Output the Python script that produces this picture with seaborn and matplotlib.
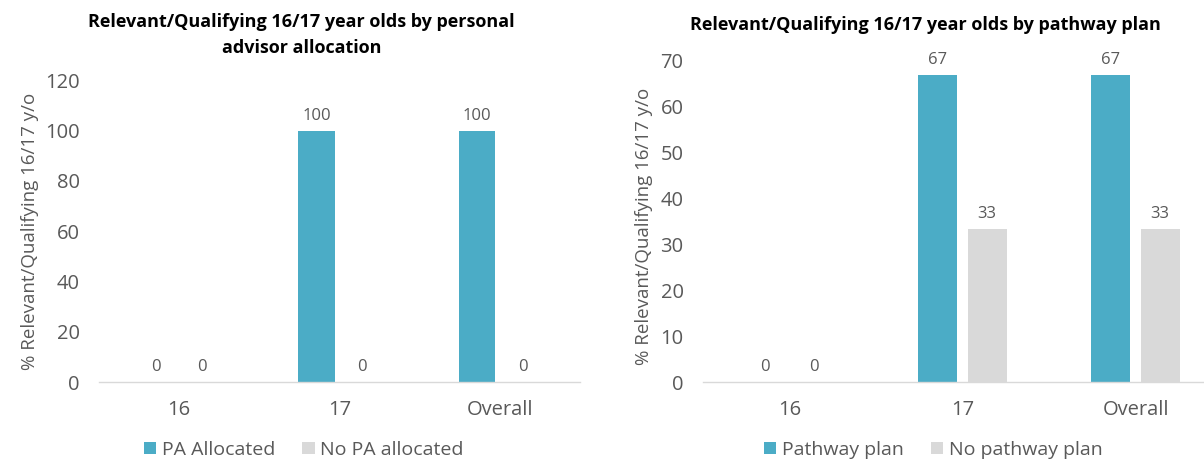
import matplotlib
matplotlib.use("Agg")
import matplotlib.pyplot as plt
import seaborn as sns
import pandas as pd

categories = ["16", "17", "Overall"]
pa_allocated = [0, 100, 100]
no_pa_allocated = [0, 0, 0]
pathway_plan = [0, 66.7, 66.7]
no_pathway_plan = [0, 33.3, 33.3]

left_series = ["PA Allocated", "No PA allocated"]
right_series = ["Pathway plan", "No pathway plan"]
left_title = "Relevant/Qualifying 16/17 year olds by personal\nadvisor allocation"
right_title = "Relevant/Qualifying 16/17 year olds by pathway plan"
ylabel = "% Relevant/Qualifying 16/17 y/o"

sns.set_theme(style="white")
plt.rcParams['font.family'] = ['Open Sans', 'DejaVu Sans']

TEAL = "#4BACC6"
GREY = "#D9D9D9"
TXT = "#595959"
W, H = 1204, 459

fig = plt.figure(figsize=(W / 100, H / 100), dpi=100)
axL = fig.add_axes([99 / W, (H - 382) / H, 481 / W, 301.5 / H])
axR = fig.add_axes([703 / W, (H - 382) / H, 519 / W, 322 / H])


def build(a, b, names):
    rows = []
    for c, v in zip(categories, a):
        rows.append({"cat": c, "series": names[0], "val": v})
    for c, v in zip(categories, b):
        rows.append({"cat": c, "series": names[1], "val": v})
    return pd.DataFrame(rows)


dfL = build(pa_allocated, no_pa_allocated, left_series)
dfR = build(pathway_plan, no_pathway_plan, right_series)


def draw(ax, df, names, ymax, step, leg_x):
    sns.barplot(data=df, x="cat", y="val", hue="series", order=categories,
                hue_order=names, palette=[TEAL, GREY], width=0.572, gap=0.21,
                ax=ax, legend=True, saturation=1, linewidth=0)
    for cont in ax.containers:
        ax.bar_label(cont, fmt="%.0f", padding=5, fontsize=12, color=TXT)
    ax.set_ylim(0, ymax)
    ax.set_yticks(range(0, ymax + 1, step))
    ax.set_xlim(-0.5, 2.5)
    ax.tick_params(axis="both", labelsize=14.5, colors=TXT, length=0)
    ax.tick_params(axis="x", pad=13)
    ax.tick_params(axis="y", pad=14)
    ax.set_xlabel("")
    ax.set_ylabel(ylabel, fontsize=13.5, color=TXT)
    for s in ["top", "right", "left"]:
        ax.spines[s].set_visible(False)
    ax.spines["bottom"].set_color("#D9D9D9")
    ax.spines["bottom"].set_linewidth(1)
    ax.legend(loc="upper left", bbox_to_anchor=(leg_x / W, (H - 441) / H),
              bbox_transform=fig.transFigure, ncol=2, frameon=False,
              fontsize=14, handlelength=0.62, handleheight=0.62, handletextpad=0.3,
              columnspacing=1.4, labelcolor=TXT, borderpad=0, borderaxespad=0)


draw(axL, dfL, left_series, 120, 20, 144)
draw(axR, dfR, right_series, 70, 10, 764)

axL.yaxis.set_label_coords((30 - 99) / 481, 0.5)
axL.yaxis.label.set_verticalalignment("center")
axR.yaxis.set_label_coords((644 - 703) / 519, 0.484)
axR.yaxis.label.set_verticalalignment("center")

fig.text(301.5 / W, (H - 13) / H, left_title, ha="center", va="top", fontsize=13,
         fontweight="bold", color="black", linespacing=1.6)
fig.text(925.5 / W, (H - 16) / H, right_title, ha="center", va="top", fontsize=13,
         fontweight="bold", color="black")

fig.savefig("out.png", dpi=100)
